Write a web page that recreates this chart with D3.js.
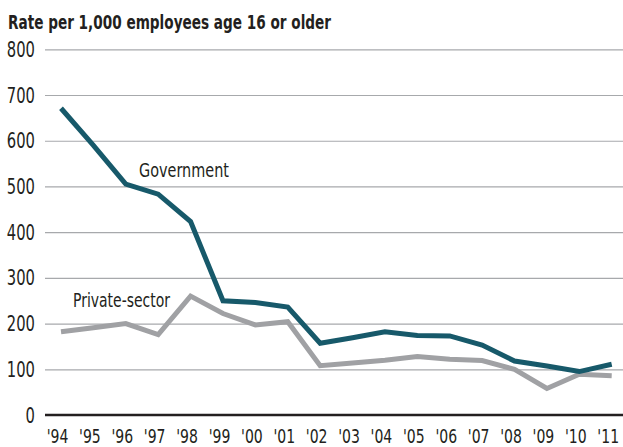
<!DOCTYPE html>
<html><head><meta charset="utf-8">
<script src="https://cdn.jsdelivr.net/npm/d3@7"></script>
<style>
body{margin:0;background:#fff;}
text{font-family:"Liberation Sans Narrow","DejaVu Sans Condensed",sans-serif;fill:#231f20;}
</style></head>
<body><svg id="c" width="623" height="447"></svg>
<script>
const years = ["'94","'95","'96","'97","'98","'99","'00","'01","'02","'03","'04","'05","'06","'07","'08","'09","'10","'11"];
const government = [671,590,505,483,423,250,246,236,157,169,182,174,173,153,118,107,95,111];
const privateSector = [182,191,200,176,260,222,197,204,108,114,120,128,122,119,100,58,89,86];
const yTicks = [0,100,200,300,400,500,600,700,800];

const svg = d3.select("#c");
const x = d3.scalePoint().domain(years).range([61, 611.7]);
const y = d3.scaleLinear().domain([0, 800]).range([415, 49.3]);

function squeeze(sel, f) {
  sel.each(function(){
    const w = this.getComputedTextLength();
    d3.select(this).attr("textLength", w * f).attr("lengthAdjust", "spacingAndGlyphs");
  });
}

svg.append("text").attr("x", 8).attr("y", 29).attr("font-weight", "bold")
  .attr("font-size", 20).attr("textLength", 323).attr("lengthAdjust","spacingAndGlyphs")
  .text("Rate per 1,000 employees age 16 or older");

const gy = svg.append("g").attr("transform","translate(45,0)")
  .call(d3.axisRight(y).tickValues(yTicks.filter(d=>d>0)).tickSize(578).tickFormat(""));
gy.select(".domain").remove();
gy.selectAll("line").attr("stroke","#a7a9ac").attr("stroke-width",1.2);

svg.selectAll(".ylab").data(yTicks).enter().append("text")
  .attr("x", 35).attr("y", d=>y(d)+7.5).attr("text-anchor","end").attr("font-size",21)
  .text(d=>d).call(squeeze, 0.78);

svg.append("line").attr("x1",45).attr("x2",623).attr("y1",y(0)).attr("y2",y(0))
  .attr("stroke","#231f20").attr("stroke-width",2.5);

const gx = svg.append("g").attr("transform","translate(0,"+y(0)+")")
  .call(d3.axisBottom(x).tickSize(0).tickPadding(0));
gx.select(".domain").remove();
gx.selectAll("text").attr("font-size",20).attr("dy",0).attr("y",28).attr("x",-4/0.78)
  .attr("transform","scale(0.78,1)")
  .style("font-family",'"Liberation Sans Narrow","DejaVu Sans Condensed",sans-serif').attr("fill","#231f20");

const line = d3.line().x((d,i)=>x(years[i])).y(d=>y(d));
svg.append("path").datum(privateSector).attr("d",line).attr("fill","none")
  .attr("stroke","#a0a1a4").attr("stroke-width",5).attr("stroke-linejoin","miter");
svg.append("path").datum(government).attr("d",line).attr("fill","none")
  .attr("stroke","#17596a").attr("stroke-width",5).attr("stroke-linejoin","miter");

svg.append("text").attr("x",139).attr("y",177).attr("font-size",20)
  .attr("textLength",90).attr("lengthAdjust","spacingAndGlyphs").text("Government");
svg.append("text").attr("x",73).attr("y",307).attr("font-size",20)
  .attr("textLength",97).attr("lengthAdjust","spacingAndGlyphs").text("Private-sector");
</script></body></html>
